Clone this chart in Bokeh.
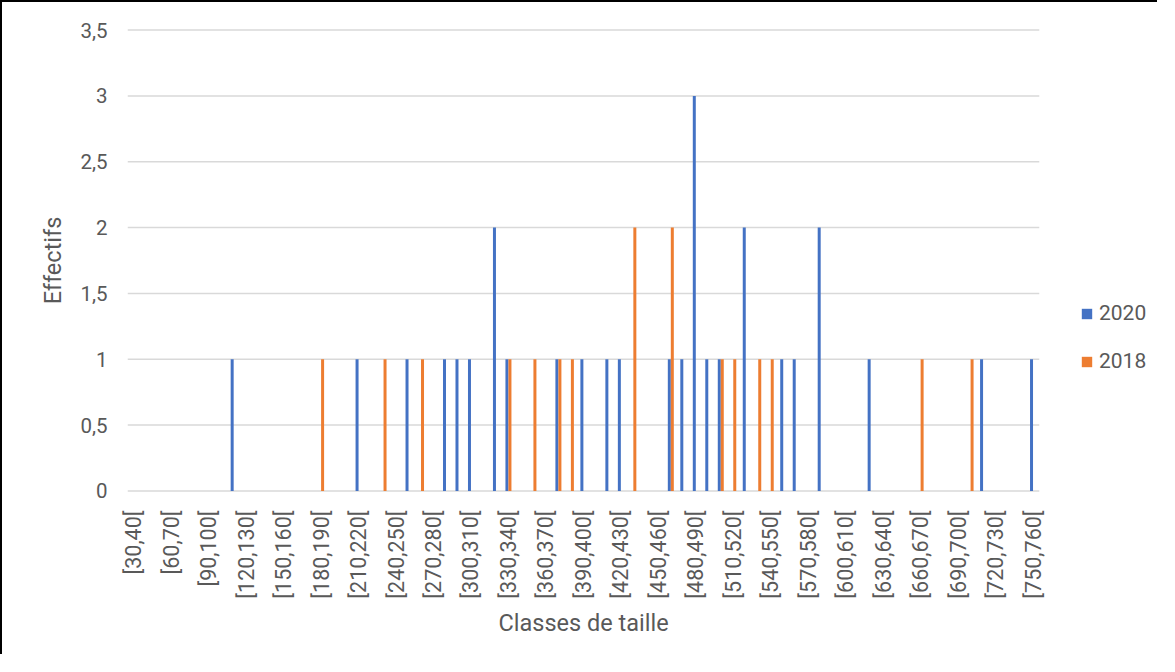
from bokeh.plotting import figure
from bokeh.models import (ColumnDataSource, FixedTicker, CustomJSTickFormatter,
                          Legend, LegendItem, Range1d, Title)
from bokeh.transform import dodge
from bokeh.embed import file_html
from bokeh.resources import INLINE
from math import pi

# Size classes (73 classes of 10, from [30,40[ to [750,760[)
class_lower = list(range(30, 760, 10))
classes = [f"[{a},{a + 10}[" for a in class_lower]

# Counts per class
counts_2020 = [0, 0, 0, 0, 0, 0, 0, 0, 1, 0,
               0, 0, 0, 0, 0, 0, 0, 0, 1, 0,
               0, 0, 1, 0, 0, 1, 1, 1, 0, 2,
               1, 0, 0, 0, 1, 0, 1, 0, 1, 1,
               0, 0, 0, 1, 1, 3, 1, 1, 0, 2,
               0, 0, 1, 1, 0, 2, 0, 0, 0, 1,
               0, 0, 0, 0, 0, 0, 0, 0, 1, 0,
               0, 0, 1]
counts_2018 = [0, 0, 0, 0, 0, 0, 0, 0, 0, 0,
               0, 0, 0, 0, 0, 1, 0, 0, 0, 0,
               1, 0, 0, 1, 0, 0, 0, 0, 0, 0,
               1, 0, 1, 0, 1, 1, 0, 0, 0, 0,
               2, 0, 0, 2, 0, 0, 0, 1, 1, 0,
               1, 1, 0, 0, 0, 0, 0, 0, 0, 0,
               0, 0, 0, 1, 0, 0, 0, 1, 0, 0,
               0, 0, 0]
series_names = ["2020", "2018"]
y_ticks = [0, 0.5, 1, 1.5, 2, 2.5, 3, 3.5]

BLUE = "#4472C4"
ORANGE = "#ED7D31"
TXT = "#595959"
GRID = "#D9D9D9"
FONT = "Roboto"

n = len(classes)
idx = list(range(n))
src = ColumnDataSource(dict(idx=idx, cls=classes, y2020=counts_2020, y2018=counts_2018))

W, H = 1157, 654
LEFT = 125
PX_PER_CLASS = 12.49
frame_w = W - LEFT
x_end = -0.5 + frame_w / PX_PER_CLASS  # frame continues under the legend

p = figure(width=W, height=H, output_backend="svg", toolbar_location=None,
           x_range=Range1d(-0.5, x_end), y_range=Range1d(-0.012, 3.512),
           min_border_left=LEFT, min_border_right=0, min_border_top=26,
           min_border_bottom=164)
p.styles = {"border-left": "2px solid black", "border-top": "2px solid black"}
p.outline_line_color = None
p.background_fill_color = "white"
p.border_fill_color = "white"

# horizontal gridlines (and the category axis baseline at 0) over the class span only
p.segment(x0=[-0.5] * len(y_ticks), x1=[n - 0.5] * len(y_ticks), y0=y_ticks, y1=y_ticks,
          line_color=GRID, line_width=1.5)

r1 = p.vbar(x=dodge("idx", -0.12, range=p.x_range), top="y2020", width=0.24,
            source=src, fill_color=BLUE, line_color=None)
r2 = p.vbar(x=dodge("idx", 0.12, range=p.x_range), top="y2018", width=0.24,
            source=src, fill_color=ORANGE, line_color=None)

# X axis
xa = p.xaxis[0]
xa.ticker = FixedTicker(ticks=idx[::3])
xa.major_label_overrides = {i: classes[i] for i in idx[::3]}
xa.major_label_orientation = pi / 2
xa.major_tick_line_color = None
xa.minor_tick_line_color = None
xa.axis_line_color = None
xa.major_label_text_font = FONT
xa.major_label_text_font_size = "21.5px"
xa.major_label_text_color = TXT
xa.major_label_standoff = 12

p.add_layout(Title(text="Classes de taille", align="left", offset=371, standoff=10,
                   text_font=FONT, text_font_size="23.5px", text_font_style="normal",
                   text_color=TXT), "below")

# Y axis
ya = p.yaxis[0]
ya.ticker = FixedTicker(ticks=y_ticks)
ya.formatter = CustomJSTickFormatter(code="return tick.toString().replace('.', ',');")
ya.major_tick_line_color = None
ya.minor_tick_line_color = None
ya.axis_line_color = None
ya.major_label_text_font = FONT
ya.major_label_text_font_size = "20.5px"
ya.major_label_text_color = TXT
ya.major_label_standoff = 14
ya.axis_label = "Effectifs"
ya.axis_label_text_font = FONT
ya.axis_label_text_font_size = "23.5px"
ya.axis_label_text_font_style = "normal"
ya.axis_label_text_color = TXT
ya.axis_label_standoff = 10

p.xgrid.grid_line_color = None
p.ygrid.grid_line_color = None

legend = Legend(items=[LegendItem(label=series_names[0], renderers=[r1]),
                       LegendItem(label=series_names[1], renderers=[r2])],
                location=(953, 119), orientation="vertical",
                padding=0, margin=0, spacing=24, border_line_color=None,
                background_fill_alpha=0, glyph_width=13, glyph_height=13,
                label_height=20, label_standoff=6,
                label_text_font=FONT, label_text_font_size="21px",
                label_text_color=TXT)
p.add_layout(legend, "center")

open("out.html", "w").write(file_html(p, INLINE))
